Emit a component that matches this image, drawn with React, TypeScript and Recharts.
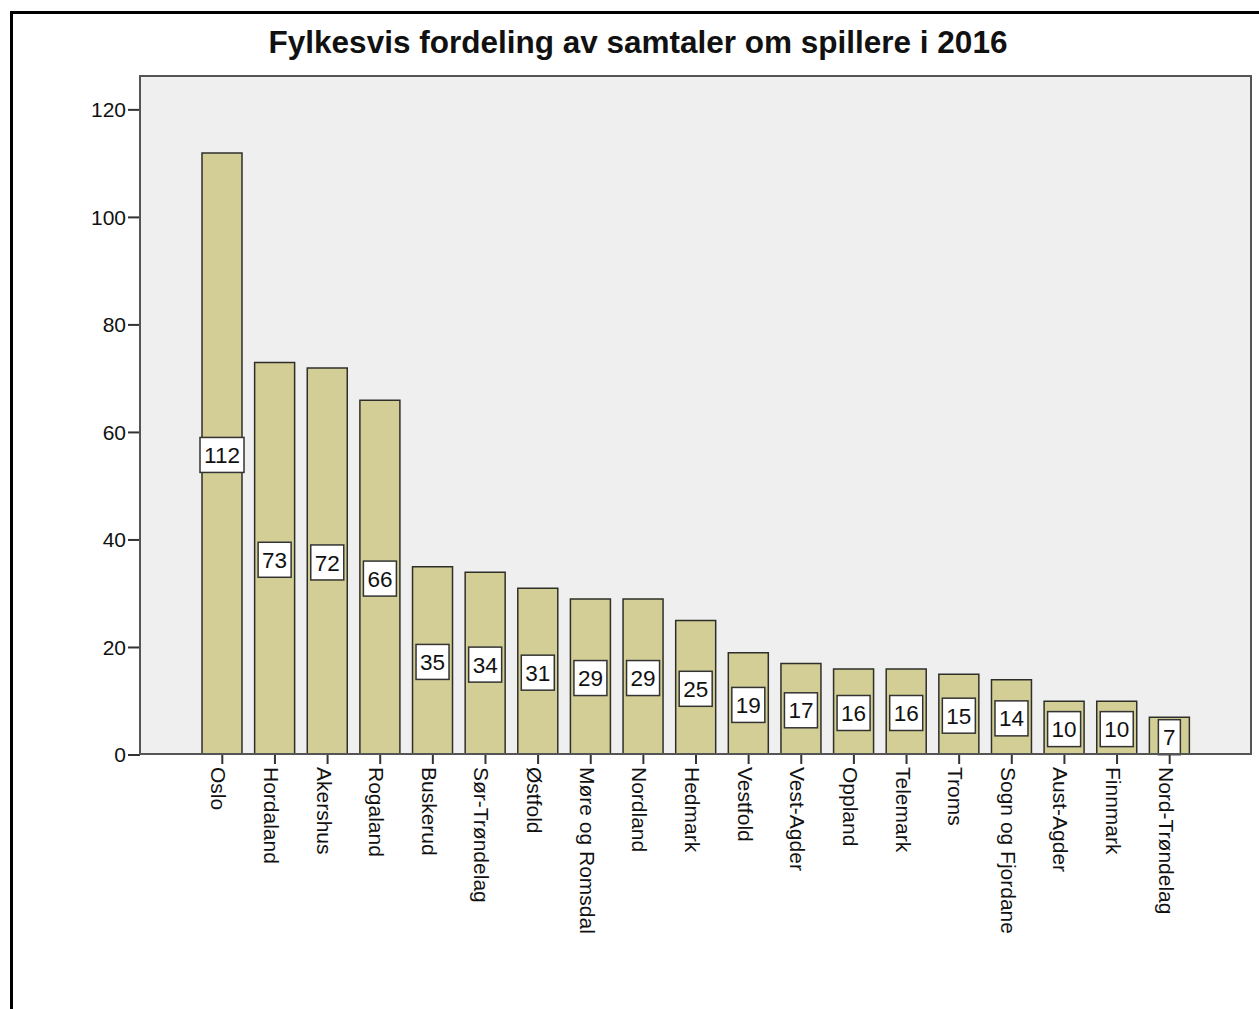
import { BarChart, Bar, XAxis, YAxis, CartesianGrid, LabelList } from 'recharts';

const counties = [
  'Oslo',
  'Hordaland',
  'Akershus',
  'Rogaland',
  'Buskerud',
  'Sør-Trøndelag',
  'Østfold',
  'Møre og Romsdal',
  'Nordland',
  'Hedmark',
  'Vestfold',
  'Vest-Agder',
  'Oppland',
  'Telemark',
  'Troms',
  'Sogn og Fjordane',
  'Aust-Agder',
  'Finnmark',
  'Nord-Trøndelag',
];
const counts = [112, 73, 72, 66, 35, 34, 31, 29, 29, 25, 19, 17, 16, 16, 15, 14, 10, 10, 7];
const yTicks = [0, 20, 40, 60, 80, 100, 120];

const title = 'Fylkesvis fordeling av samtaler om spillere i 2016';

const data = counties.map((name, i) => ({ name, count: counts[i] }));

const FONT = 'Arial, "Liberation Sans", sans-serif';

function CountyTick({ x, y, payload }: any) {
  return (
    <g transform={`translate(${x},${y})`}>
      <text
        transform="rotate(90)"
        x={1}
        y={11}
        textAnchor="start"
        fontSize={21}
        fontFamily={FONT}
        fill="#111"
      >
        {payload.value}
      </text>
    </g>
  );
}

function ValueBox(props: any) {
  const { x, y, width, height, value } = props;
  const label = String(value);
  const boxW = label.length * 11 + 11;
  const boxH = 35;
  const cx = Number(x) + Number(width) / 2;
  const cy = Number(y) + Number(height) / 2 + 1;
  return (
    <g>
      <rect
        x={cx - boxW / 2}
        y={cy - boxH / 2}
        width={boxW}
        height={boxH}
        fill="#fff"
        stroke="#333"
        strokeWidth={1.5}
      />
      <text
        x={cx}
        y={cy}
        dy="0.36em"
        textAnchor="middle"
        fontSize={22.5}
        fontFamily={FONT}
        fill="#111"
      >
        {label}
      </text>
    </g>
  );
}

export default function App() {
  return (
    <div
      style={{
        position: 'absolute',
        left: 0,
        top: 0,
        width: 1259,
        height: 1009,
        background: '#fff',
        overflow: 'hidden',
        fontFamily: FONT,
      }}
    >
      <div
        style={{
          position: 'absolute',
          left: 10,
          top: 11,
          width: 1300,
          height: 1100,
          borderLeft: '3px solid #000',
          borderTop: '3px solid #000',
        }}
      />
      <div
        style={{
          position: 'absolute',
          left: 0,
          top: 27,
          width: 1276,
          textAlign: 'center',
          fontSize: 31.5,
          lineHeight: '31.5px',
          fontWeight: 'bold',
          color: '#111',
        }}
      >
        {title}
      </div>
      <div style={{ position: 'absolute', left: 0, top: 0 }}>
        <BarChart
          width={1259}
          height={1009}
          data={data}
          margin={{ top: 76, right: 7, left: 0, bottom: 0 }}
          barSize={40}
        >
          <CartesianGrid fill="#EFEFEF" stroke="none" horizontal={false} vertical={false} />
          <XAxis
            dataKey="name"
            interval={0}
            height={254}
            padding={{ left: 56, right: 56 }}
            axisLine={false}
            tickSize={9}
            tickLine={{ stroke: '#333', strokeWidth: 2 }}
            tick={<CountyTick />}
          />
          <YAxis
            width={140}
            domain={[0, 126.3]}
            ticks={yTicks}
            allowDataOverflow
            axisLine={false}
            tickSize={12}
            tickLine={{ stroke: '#333', strokeWidth: 2 }}
            tick={{ fontSize: 21, fill: '#111', fontFamily: FONT }}
          />
          <Bar
            dataKey="count"
            fill="#D2CE96"
            stroke="#2f2f2a"
            strokeWidth={1.5}
            isAnimationActive={false}
          >
            <LabelList dataKey="count" position="center" content={<ValueBox />} />
          </Bar>
        </BarChart>
      </div>
      <div
        style={{
          position: 'absolute',
          left: 139,
          top: 75,
          width: 1113,
          height: 680,
          boxSizing: 'border-box',
          border: '2px solid #555',
          pointerEvents: 'none',
        }}
      />
    </div>
  );
}
